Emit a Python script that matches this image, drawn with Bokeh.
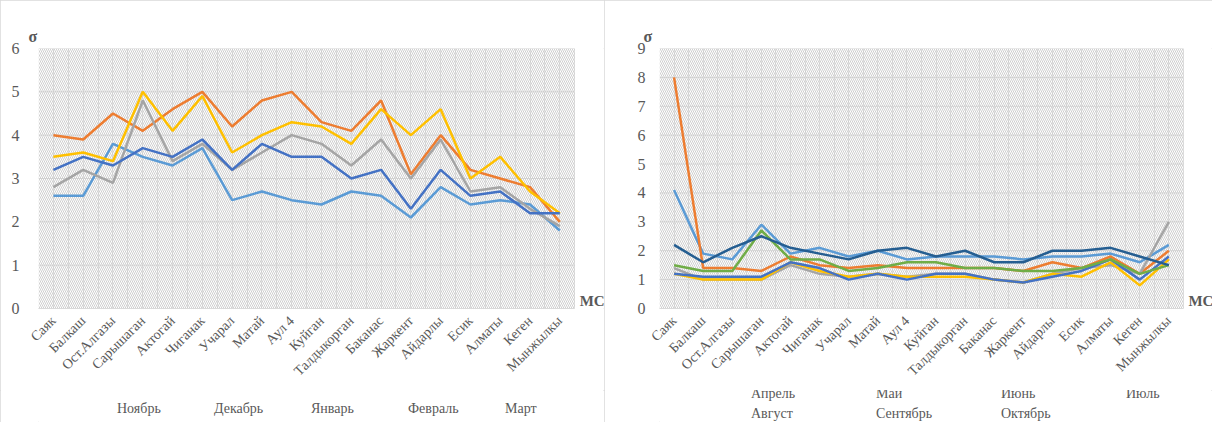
import math
import numpy as np
from bokeh.plotting import figure
from bokeh.layouts import row, column
from bokeh.models import (Range1d, FixedTicker, Legend, LegendItem, BoxAnnotation)
from bokeh.core.properties import value
from bokeh.embed import file_html
from bokeh.resources import INLINE

stations = ["Саяк", "Балкаш", "Ост.Алгазы", "Сарышаган", "Актогай", "Чиганак", "Учарал",
            "Матай", "Аул 4", "Куйган", "Талдыкорган", "Баканас", "Жаркент", "Айдарлы",
            "Есик", "Алматы", "Кеген", "Мынжылкы"]

# Left chart (cold season)
nov = [2.6, 2.6, 3.8, 3.5, 3.3, 3.7, 2.5, 2.7, 2.5, 2.4, 2.7, 2.6, 2.1, 2.8, 2.4, 2.5, 2.4, 1.8]
dec = [4.0, 3.9, 4.5, 4.1, 4.6, 5.0, 4.2, 4.8, 5.0, 4.3, 4.1, 4.8, 3.1, 4.0, 3.2, 3.0, 2.8, 2.0]
jan = [2.8, 3.2, 2.9, 4.8, 3.4, 3.8, 3.2, 3.6, 4.0, 3.8, 3.3, 3.9, 3.0, 3.9, 2.7, 2.8, 2.3, 1.9]
feb = [3.5, 3.6, 3.4, 5.0, 4.1, 4.9, 3.6, 4.0, 4.3, 4.2, 3.8, 4.6, 4.0, 4.6, 3.0, 3.5, 2.7, 2.2]
mar = [3.2, 3.5, 3.3, 3.7, 3.5, 3.9, 3.2, 3.8, 3.5, 3.5, 3.0, 3.2, 2.3, 3.2, 2.6, 2.7, 2.2, 2.2]

# Right chart (warm season)
apr = [4.1, 1.9, 1.7, 2.9, 1.9, 2.1, 1.8, 2.0, 1.7, 1.8, 1.8, 1.8, 1.7, 1.8, 1.8, 1.9, 1.6, 2.2]
may = [8.0, 1.4, 1.4, 1.3, 1.8, 1.5, 1.4, 1.5, 1.4, 1.4, 1.4, 1.4, 1.3, 1.6, 1.4, 1.8, 1.2, 2.0]
jun = [1.4, 1.0, 1.0, 1.0, 1.5, 1.2, 1.1, 1.2, 1.1, 1.2, 1.2, 1.0, 0.9, 1.2, 1.4, 1.5, 1.2, 3.0]
jul = [1.2, 1.0, 1.0, 1.0, 1.6, 1.3, 1.1, 1.2, 1.1, 1.1, 1.1, 1.0, 0.9, 1.2, 1.1, 1.6, 0.8, 1.7]
aug = [1.2, 1.1, 1.1, 1.1, 1.6, 1.4, 1.0, 1.2, 1.0, 1.2, 1.2, 1.0, 0.9, 1.1, 1.3, 1.7, 1.0, 1.8]
sep = [1.5, 1.3, 1.3, 2.7, 1.7, 1.7, 1.3, 1.4, 1.6, 1.6, 1.4, 1.4, 1.3, 1.3, 1.4, 1.7, 1.2, 1.5]
okt = [2.2, 1.6, 2.1, 2.5, 2.1, 1.9, 1.7, 2.0, 2.1, 1.8, 2.0, 1.6, 1.6, 2.0, 2.0, 2.1, 1.8, 1.5]

left_names = ["Ноябрь", "Декабрь", "Январь", "Февраль", "Март"]
left_series = [nov, dec, jan, feb, mar]
left_colors = ["#5B9BD5", "#ED7D31", "#A5A5A5", "#FFC000", "#4472C4"]

right_names = ["Апрель", "Май", "Июнь", "Июль", "Август", "Сентябрь", "Октябрь"]
right_series = [apr, may, jun, jul, aug, sep, okt]
right_colors = ["#5B9BD5", "#ED7D31", "#A5A5A5", "#FFC000", "#4472C4", "#70AD47", "#255E91"]

y_axis_title = "σ"
x_axis_title = "MC"

FONT = "Liberation Serif"
TXT = "#595959"


def make_chart(width, ymax, series, colors, border_left, y_standoff, title_offset):
    n = len(stations)
    x = np.arange(n)
    p = figure(width=width, height=390, x_range=Range1d(-0.5, n + 0.5),
               y_range=Range1d(0, ymax), output_backend="svg", toolbar_location=None,
               min_border_left=border_left, min_border_right=0,
               min_border_top=48, min_border_bottom=82)
    p.outline_line_color = None

    # σ as the title, just left of the plot area
    p.title.text = y_axis_title
    p.title.align = "left"
    p.title.offset = title_offset
    p.title.standoff = 8
    p.title.text_font = FONT
    p.title.text_font_size = "16px"
    p.title.text_font_style = "bold"
    p.title.text_color = TXT

    # patterned plot area (ends at the last category band)
    p.add_layout(BoxAnnotation(right=n - 0.5, fill_alpha=0, line_color=None,
                               hatch_pattern="\\", hatch_color="#c9c9c9", hatch_scale=4,
                               hatch_weight=0.9, level="underlay"))

    p.xaxis.ticker = FixedTicker(ticks=list(range(n)))
    p.xaxis.major_label_overrides = {i: s for i, s in enumerate(stations)}
    p.xaxis.major_label_orientation = math.pi / 4
    p.xaxis.major_label_text_font = FONT
    p.xaxis.major_label_text_font_size = "14px"
    p.xaxis.major_label_text_color = TXT
    p.xaxis.axis_line_color = "#d9d9d9"
    p.xaxis.bounds = (-0.5, n - 0.5)
    p.xaxis.major_tick_line_color = None
    p.xaxis.minor_tick_line_color = None
    p.xaxis.major_label_standoff = 4

    p.yaxis.ticker = FixedTicker(ticks=list(range(ymax + 1)))
    p.yaxis.major_label_text_font = FONT
    p.yaxis.major_label_text_font_size = "16px"
    p.yaxis.major_label_text_color = TXT
    p.yaxis.axis_line_color = None
    p.yaxis.major_tick_line_color = None
    p.yaxis.minor_tick_line_color = None
    p.yaxis.major_label_standoff = y_standoff

    p.xgrid.ticker = FixedTicker(ticks=[float(t) for t in np.arange(-0.5, n, 0.5)])
    p.xgrid.grid_line_color = "#e0e0e0"
    p.ygrid.visible = False
    yt = np.arange(ymax + 1)
    p.segment(x0=np.full(len(yt), -0.5), x1=np.full(len(yt), n - 0.5), y0=yt, y1=yt,
              line_color="#d9d9d9", line_width=1, level="underlay")

    for ys, c in zip(series, colors):
        p.line(x, ys, line_color=c, line_width=2.5)

    # "MC" at the right end of the category axis
    p.text(x=[n - 0.5], y=[0], text=[x_axis_title], text_font=value(FONT),
           text_font_size="15px", text_font_style="bold", text_color=TXT,
           text_baseline="bottom", text_align="left", x_offset=5)
    return p


def make_legend(width, names, colors, ncols, label_width, loc):
    lf = figure(width=width, height=32, x_range=Range1d(0, 1), y_range=Range1d(0, 1),
                output_backend="svg", toolbar_location=None, x_axis_type=None,
                y_axis_type=None, min_border_left=0, min_border_right=0,
                min_border_top=0, min_border_bottom=0)
    lf.outline_line_color = None
    lf.grid.visible = False
    items = []
    for name, c in zip(names, colors):
        r = lf.line(x=[], y=[], line_color=c, line_width=2.5)
        items.append(LegendItem(label=name, renderers=[r]))
    legend = Legend(items=items, orientation="horizontal", ncols=ncols, location=loc,
                    label_text_font=FONT, label_text_font_size="14px", label_text_color=TXT,
                    glyph_width=33, glyph_height=14, label_height=14, label_standoff=3,
                    label_width=label_width, spacing=4, padding=0, margin=0,
                    border_line_color=None, background_fill_alpha=0)
    lf.add_layout(legend)
    return lf


p1 = make_chart(604, 6, left_series, left_colors, 38, 13, -10)
p2 = make_chart(608, 9, right_series, right_colors, 55, 8, -16)
l1 = make_legend(604, left_names, left_colors, 5, 57, (43, 5))
l2 = make_legend(608, right_names, right_colors, 4, 85, (56, 0))

c1 = column(p1, l1)
c2 = column(p2, l2)
c1.styles = {"outline": "1px solid #d9d9d9", "outline-offset": "-1px"}
c2.styles = {"outline": "1px solid #d9d9d9", "outline-offset": "-1px"}

layout = row(c1, c2)
open("out.html", "w").write(file_html(layout, INLINE))
